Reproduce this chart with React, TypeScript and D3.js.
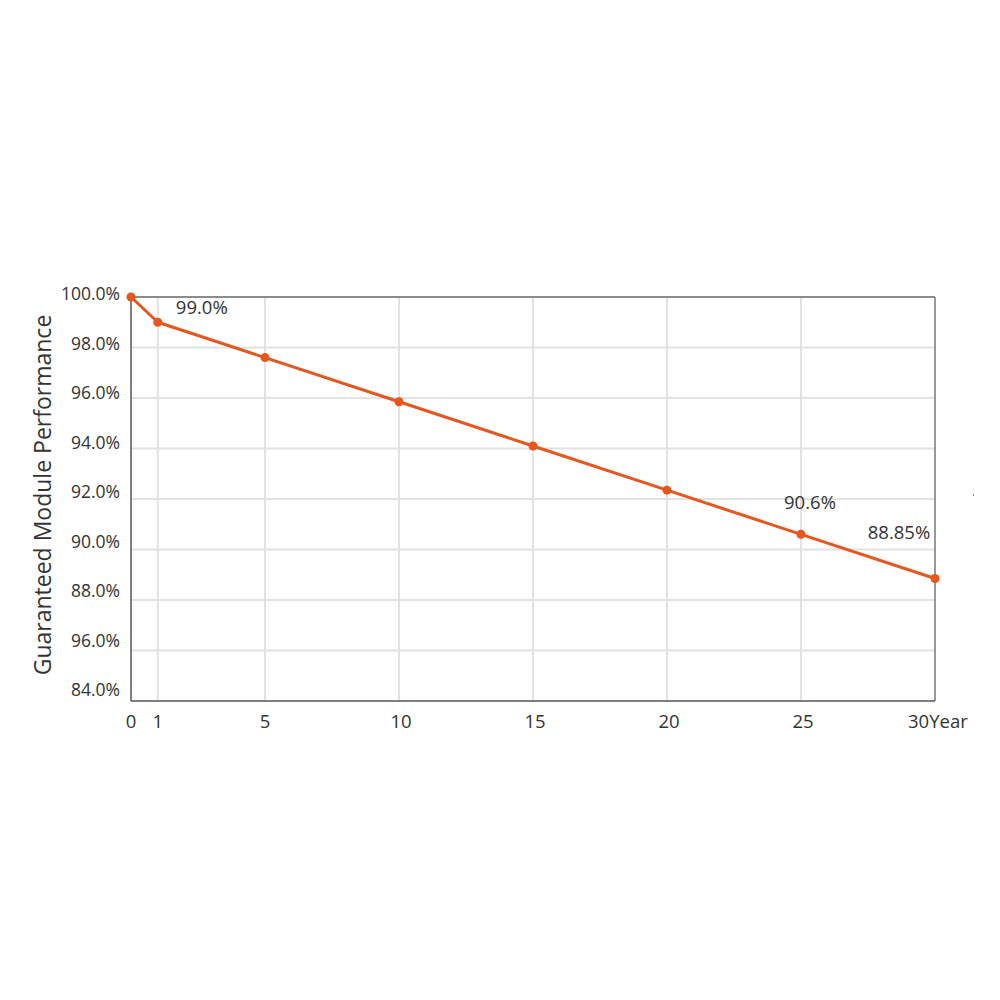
import React from "react";
import * as d3 from "d3";

const years = [0, 1, 5, 10, 15, 20, 25, 30];
const performance = [100, 99.0, 97.6, 95.85, 94.1, 92.35, 90.6, 88.85];
const xTickValues = [0, 1, 5, 10, 15, 20, 25, 30];
const xTickLabels = ["0", "1", "5", "10", "15", "20", "25", "30Year"];
const xGridValues = [1, 5, 10, 15, 20, 25];
const yTickValues = [100, 98, 96, 94, 92, 90, 88, 86, 84];
const yTickLabels = ["100.0%", "98.0%", "96.0%", "94.0%", "92.0%", "90.0%", "88.0%", "96.0%", "84.0%"];
const annotations = [
  { year: 1, value: 99.0, label: "99.0%" },
  { year: 25, value: 90.6, label: "90.6%" },
  { year: 30, value: 88.85, label: "88.85%" },
];
const yTitle = "Guaranteed Module Performance";

const FONT = "'Open Sans', sans-serif";
const ORANGE = "#e8561e";

export default function App() {
  const x = d3.scaleLinear().domain([0, 30]).range([131, 935]);
  const y = d3.scaleLinear().domain([84, 100]).range([701, 297]);
  const yLab = d3.scaleLinear().domain([84, 100]).range([690, 294]);
  const pts = years.map((yr, i) => [yr, performance[i]] as [number, number]);
  const line = d3.line<[number, number]>().x((d) => x(d[0])).y((d) => y(d[1]));
  const annOffsets: Record<number, [number, number]> = { 1: [44, -15], 25: [9, -32], 30: [-36, -46] };

  return (
    <svg width={1000} height={1000} style={{ position: "absolute", left: 0, top: 0, background: "#fff" }}>
      {yTickValues.filter((v) => v !== 100 && v !== 84).map((v) => (
        <line key={"hg" + v} x1={x(0)} x2={x(30)} y1={y(v)} y2={y(v)} stroke="#e2e2e2" strokeWidth={2} />
      ))}
      {xGridValues.map((v) => (
        <line key={"vg" + v} x1={x(v)} x2={x(v)} y1={y(100)} y2={y(84)} stroke="#e2e2e2" strokeWidth={2} />
      ))}
      <line x1={x(0)} x2={x(30)} y1={y(100)} y2={y(100)} stroke="#666" strokeWidth={1.5} />
      <line x1={x(30)} x2={x(30)} y1={y(100)} y2={y(84)} stroke="#777" strokeWidth={1.5} />
      <line x1={x(0)} x2={x(30)} y1={y(84)} y2={y(84)} stroke="#555" strokeWidth={1.5} />
      <line x1={x(0)} x2={x(0)} y1={y(100)} y2={y(84)} stroke="#555" strokeWidth={1.5} />
      {yTickValues.map((v, i) => (
        <text key={"yt" + v} x={120} y={yLab(v)} dy="0.35em" textAnchor="end" fontFamily={FONT} fontSize={17.5} fill="#333">
          {yTickLabels[i]}
        </text>
      ))}
      {xTickValues.map((v, i) => (
        <text
          key={"xt" + v}
          x={i === xTickValues.length - 1 ? x(v) - 27 : x(v) + (v >= 10 ? 2 : 0)}
          y={722}
          dy="0.35em"
          textAnchor={i === xTickValues.length - 1 ? "start" : "middle"}
          fontFamily={FONT}
          fontSize={18.5}
          fill="#333"
        >
          {xTickLabels[i]}
        </text>
      ))}
      <text
        transform={`translate(43,${495}) rotate(-90)`}
        textAnchor="middle"
        dy="0.35em"
        fontFamily={FONT}
        fontSize={23}
        fill="#333"
      >
        {yTitle}
      </text>
      <path d={line(pts) || ""} fill="none" stroke={ORANGE} strokeWidth={3} strokeLinejoin="round" />
      {pts.map((d) => (
        <circle key={"p" + d[0]} cx={x(d[0])} cy={y(d[1])} r={4.5} fill={ORANGE} />
      ))}
      {annotations.map((a) => (
        <text
          key={"a" + a.year}
          x={x(a.year) + annOffsets[a.year][0]}
          y={y(a.value) + annOffsets[a.year][1]}
          dy="0.35em"
          textAnchor="middle"
          fontFamily={FONT}
          fontSize={18.5}
          fill="#333"
        >
          {a.label}
        </text>
      ))}
      <rect x={973} y={494} width={1} height={2} fill="#999" />
    </svg>
  );
}
